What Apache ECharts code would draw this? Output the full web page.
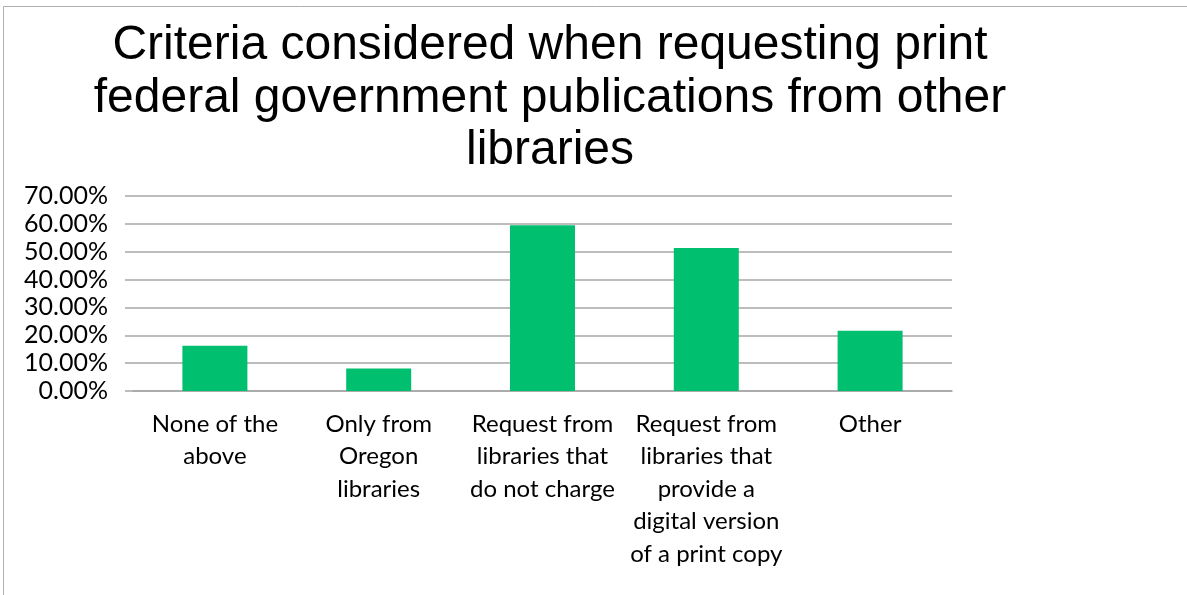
<!DOCTYPE html>
<html>
<head>
<meta charset="utf-8">
<script src="https://cdn.jsdelivr.net/npm/echarts@6/dist/echarts.min.js"></script>
<style>
  html, body { margin: 0; padding: 0; background: #fff; }
  #main { width: 1187px; height: 595px; }
</style>
</head>
<body>
<div id="main"></div>
<script>
// survey answers, share of respondents
var categories = [
  "None of the\nabove",
  "Only from\nOregon\nlibraries",
  "Request from\nlibraries that\ndo not charge",
  "Request from\nlibraries that\nprovide a\ndigital version\nof a print copy",
  "Other"
];
var shares = [0.1622, 0.0811, 0.5946, 0.5135, 0.2162];

var labelFont = "Lato, 'Open Sans', sans-serif";

var myChart = echarts.init(document.getElementById("main"));
var option = {
  animation: false,
  backgroundColor: "#fff",
  title: {
    text: "Criteria considered when requesting print\nfederal government publications from other\nlibraries",
    left: 550,
    top: 20,
    textAlign: "center",
    padding: 0,
    textStyle: {
      fontFamily: "'Liberation Sans', Arial, sans-serif",
      fontWeight: "normal",
      fontSize: 48,
      lineHeight: 52.5,
      color: "#000"
    }
  },
  graphic: [
    {
      type: "rect",
      shape: { x: 3.5, y: 6.5, width: 1300, height: 700 },
      style: { fill: "none", stroke: "#b0b0b0", lineWidth: 1 },
      silent: true
    }
  ],
  grid: {
    left: 133,
    right: 1187 - 952,
    top: 196,
    bottom: 595 - 391
  },
  xAxis: {
    type: "category",
    data: categories,
    axisLine: { lineStyle: { color: "#a6a6a6", width: 1.5 } },
    axisTick: { length: 8, lineStyle: { color: "#a6a6a6", width: 1.5 } },
    axisLabel: {
      interval: 0,
      margin: 17,
      color: "#000",
      fontFamily: labelFont,
      fontSize: 24,
      lineHeight: 32.5
    }
  },
  yAxis: {
    type: "value",
    min: 0,
    max: 0.7,
    interval: 0.1,
    axisLine: { show: false },
    axisTick: { show: true, length: 8, lineStyle: { color: "#a6a6a6", width: 1.5 } },
    splitLine: { lineStyle: { color: "#a6a6a6", width: 1.5 } },
    axisLabel: {
      margin: 25,
      color: "#000",
      fontFamily: labelFont,
      fontSize: 25,
      formatter: function (v) { return (v * 100).toFixed(2) + "%"; }
    }
  },
  series: [
    {
      type: "bar",
      data: shares,
      barWidth: 65,
      itemStyle: { color: "#00bf6f" }
    }
  ]
};
myChart.setOption(option);
</script>
</body>
</html>
